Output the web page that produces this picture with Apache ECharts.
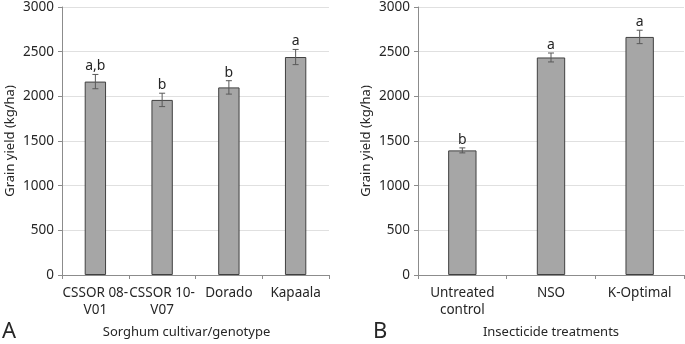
<!DOCTYPE html>
<html>
<head>
<meta charset="utf-8">
<script src="https://cdn.jsdelivr.net/npm/echarts@6/dist/echarts.min.js"></script>
<style>
  html, body { margin: 0; padding: 0; background: #fff; }
  #chart { width: 685px; height: 344px; }
</style>
</head>
<body>
<div id="chart"></div>
<script>
// panel A - cultivars
var cultivars = ['CSSOR 08-\nV01', 'CSSOR 10-\nV07', 'Dorado', 'Kapaala'];
var cultivarYield = [2165, 1960, 2100, 2440];
var cultivarErr = [80, 75, 75, 85];
var cultivarLetters = ['a,b', 'b', 'b', 'a'];

// panel B - insecticide treatments
var treatments = ['Untreated\ncontrol', 'NSO', 'K-Optimal'];
var treatmentYield = [1395, 2435, 2665];
var treatmentErr = [28, 50, 75];
var treatmentLetters = ['b', 'a', 'a'];

var yTicks = [0, 500, 1000, 1500, 2000, 2500, 3000];

var font = 'Noto Sans';
var txt = '#262626';

var chartElm = document.getElementById('chart');
var myChart = echarts.init(chartElm);

function yAxisFor(idx) {
    return {
        type: 'value',
        gridIndex: idx,
        min: yTicks[0],
        max: yTicks[yTicks.length - 1],
        interval: yTicks[1] - yTicks[0],
        name: 'Grain yield (kg/ha)',
        nameLocation: 'middle',
        nameGap: 45,
        nameTextStyle: { fontFamily: font, fontSize: 13, color: txt },
        axisLine: { show: true, lineStyle: { color: '#8c8c8c', width: 1 } },
        axisTick: { show: true, length: 4, lineStyle: { color: '#8c8c8c' } },
        axisLabel: {
            fontFamily: font, fontSize: 13.5, color: txt, margin: 8,
            formatter: function (v) { return String(v); }
        },
        splitLine: { show: true, lineStyle: { color: '#e0e0e0' } }
    };
}

function xAxisFor(idx, cats, name, pad) {
    return {
        type: 'category',
        gridIndex: idx,
        data: cats,
        name: name,
        nameLocation: 'middle',
        nameGap: 51,
        nameTextStyle: { fontFamily: font, fontSize: 13, color: txt, padding: pad },
        axisLine: { show: true, lineStyle: { color: '#8c8c8c', width: 1 } },
        axisTick: { show: true, length: 4, alignWithLabel: false, lineStyle: { color: '#8c8c8c' } },
        axisLabel: { fontFamily: font, fontSize: 13.5, color: txt, margin: 10, lineHeight: 17, interval: 0 }
    };
}

// error bars + significance letters, drawn from the axis scales
function errSeries(idx, vals, errs, letters) {
    var data = vals.map(function (v, i) { return [i, v, errs[i], letters[i]]; });
    return {
        type: 'custom',
        xAxisIndex: idx,
        yAxisIndex: idx,
        z: 5,
        data: data,
        renderItem: function (params, api) {
            var x = api.value(0);
            var v = api.value(1);
            var e = api.value(2);
            var top = api.coord([x, v + e]);
            var bot = api.coord([x, v - e]);
            var cap = 3;
            var st = { stroke: '#595959', lineWidth: 1 };
            return {
                type: 'group',
                children: [
                    { type: 'line', shape: { x1: top[0], y1: top[1], x2: bot[0], y2: bot[1] }, style: st },
                    { type: 'line', shape: { x1: top[0] - cap, y1: top[1], x2: top[0] + cap, y2: top[1] }, style: st },
                    { type: 'line', shape: { x1: bot[0] - cap, y1: bot[1], x2: bot[0] + cap, y2: bot[1] }, style: st },
                    {
                        type: 'text',
                        style: {
                            x: top[0], y: top[1] - 1,
                            text: data[params.dataIndex][3],
                            align: 'center', verticalAlign: 'bottom',
                            fontFamily: font, fontSize: 14, fill: txt
                        }
                    }
                ]
            };
        }
    };
}

var barStyle = { color: '#a6a6a6', borderColor: '#404040', borderWidth: 1 };

var option = {
    backgroundColor: '#fff',
    animation: false,
    grid: [
        { left: 62, top: 6, width: 267, bottom: 67 },
        { left: 418, top: 6, width: 266, bottom: 67 }
    ],
    xAxis: [
        xAxisFor(0, cultivars, 'Sorghum cultivar/genotype', [0, 18, 0, 0]),
        xAxisFor(1, treatments, 'Insecticide treatments', [0, 0, 0, 0])
    ],
    yAxis: [yAxisFor(0), yAxisFor(1)],
    series: [
        { type: 'bar', xAxisIndex: 0, yAxisIndex: 0, data: cultivarYield, barWidth: '32%', itemStyle: barStyle },
        { type: 'bar', xAxisIndex: 1, yAxisIndex: 1, data: treatmentYield, barWidth: '32%', itemStyle: barStyle },
        errSeries(0, cultivarYield, cultivarErr, cultivarLetters),
        errSeries(1, treatmentYield, treatmentErr, treatmentLetters)
    ],
    graphic: [
        { type: 'text', left: 2, top: 321, style: { text: 'A', fontFamily: font, fontSize: 22, fill: txt } },
        { type: 'text', left: 373, top: 321, style: { text: 'B', fontFamily: font, fontSize: 22, fill: txt } }
    ]
};

myChart.setOption(option);
</script>
</body>
</html>
